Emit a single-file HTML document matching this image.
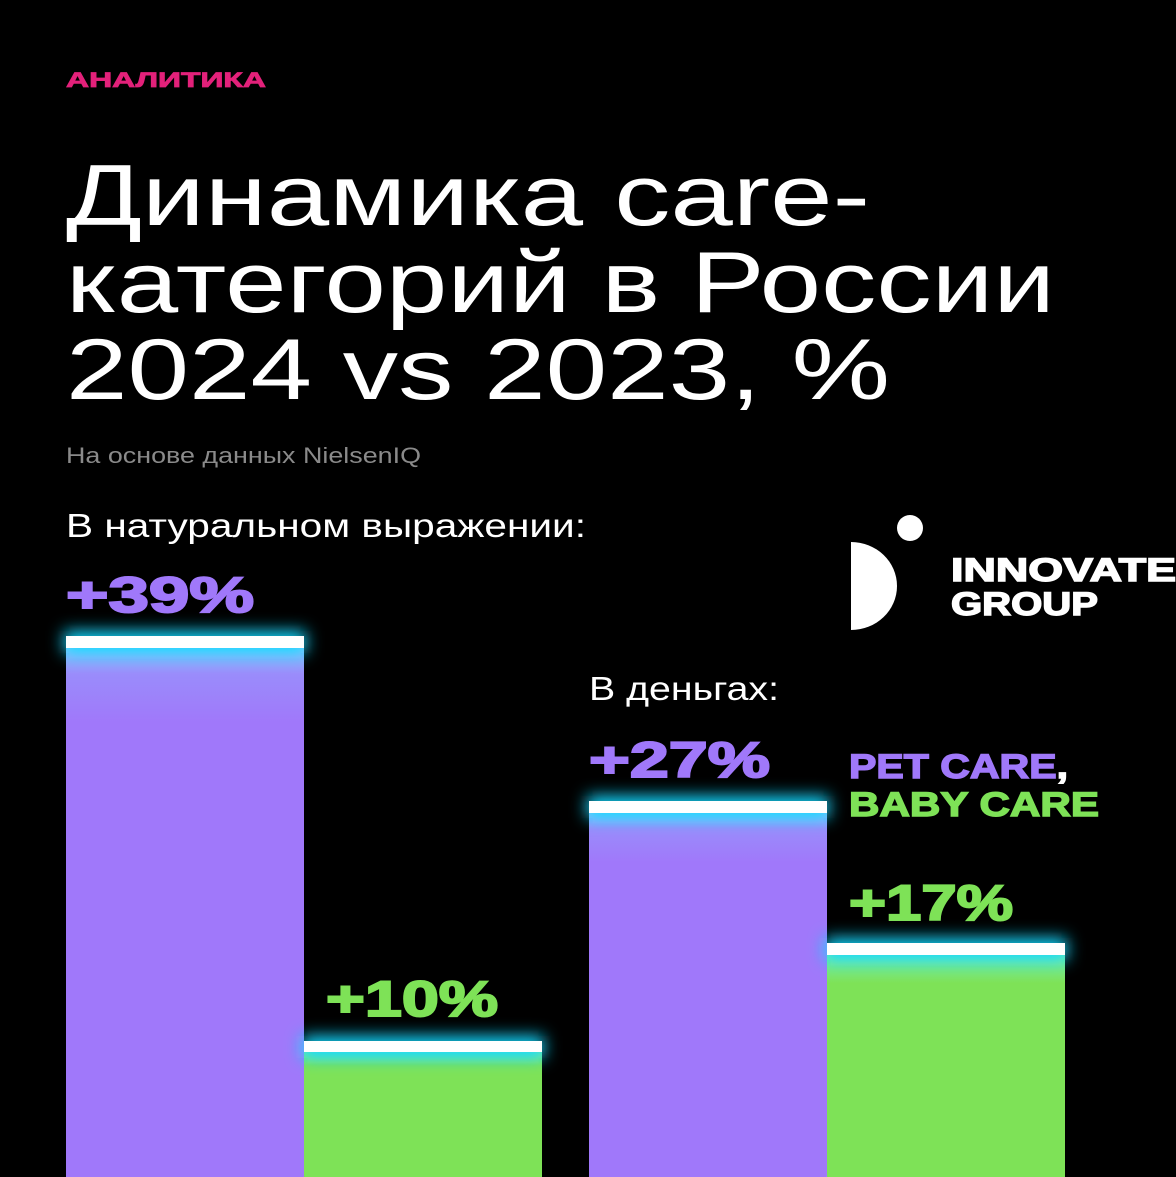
<!DOCTYPE html>
<html><head><meta charset="utf-8"><style>
html,body{margin:0;padding:0;background:#000;}
svg{display:block}
text{font-family:"Liberation Sans",sans-serif}
</style></head><body>
<svg width="1176" height="1177" viewBox="0 0 1176 1177" xmlns="http://www.w3.org/2000/svg">
<defs>
<filter id="glow" x="-20%" y="-300%" width="140%" height="700%"><feGaussianBlur stdDeviation="8"/></filter>
<linearGradient id="gp" x1="0" y1="0" x2="0" y2="1"><stop offset="0" stop-color="#7fd6ff"/><stop offset="0.06" stop-color="#9a8cfb"/><stop offset="0.15" stop-color="#a078fa"/><stop offset="1" stop-color="#a078fa"/></linearGradient>
<linearGradient id="gg" x1="0" y1="0" x2="0" y2="1"><stop offset="0" stop-color="#6ff0c0"/><stop offset="0.15" stop-color="#7ee257"/><stop offset="1" stop-color="#7ee257"/></linearGradient>
</defs>
<rect width="1176" height="1177" fill="#000"/>
<text x="66" y="87" font-size="21" font-weight="bold" fill="#e3217a" stroke="#e3217a" stroke-width="0.8" textLength="200" lengthAdjust="spacingAndGlyphs">АНАЛИТИКА</text>
<g fill="#fff" font-size="86">
<text x="66" y="225" textLength="804" lengthAdjust="spacingAndGlyphs">Динамика care-</text>
<text x="66" y="312" textLength="989" lengthAdjust="spacingAndGlyphs">категорий в России</text>
<text x="66" y="399" textLength="824" lengthAdjust="spacingAndGlyphs">2024 vs 2023, %</text>
</g>
<text x="66" y="463" font-size="22" fill="#8a8a8a" textLength="355" lengthAdjust="spacingAndGlyphs">На основе данных NielsenIQ</text>
<text x="66" y="537" font-size="33" fill="#fff" textLength="520" lengthAdjust="spacingAndGlyphs">В натуральном выражении:</text>
<text x="589" y="700" font-size="33" fill="#fff" textLength="190" lengthAdjust="spacingAndGlyphs">В деньгах:</text>
<g font-weight="bold" font-size="50" stroke-width="2">
<text x="66" y="612" fill="#a078fa" stroke="#a078fa" textLength="188" lengthAdjust="spacingAndGlyphs">+39%</text>
<text x="589" y="777" fill="#a078fa" stroke="#a078fa" textLength="181" lengthAdjust="spacingAndGlyphs">+27%</text>
<text x="849" y="920" fill="#7ee257" stroke="#7ee257" textLength="164" lengthAdjust="spacingAndGlyphs">+17%</text>
<text x="326" y="1016" fill="#7ee257" stroke="#7ee257" textLength="172" lengthAdjust="spacingAndGlyphs">+10%</text>
</g>
<g font-weight="bold" font-size="34" stroke-width="1.4">
<text x="849" y="778" fill="#a078fa" stroke="#a078fa" textLength="219" lengthAdjust="spacingAndGlyphs">PET CARE<tspan fill="#fff" stroke="#fff">,</tspan></text>
<text x="849" y="816" fill="#7ee257" stroke="#7ee257" textLength="250" lengthAdjust="spacingAndGlyphs">BABY CARE</text>
</g>
<path d="M851 542 A46 44 0 0 1 851 630 Z" fill="#fff"/>
<circle cx="910" cy="528" r="13" fill="#fff"/>
<g font-weight="bold" font-size="32" fill="#fff" stroke="#fff" stroke-width="1.4">
<text x="951" y="581" textLength="225" lengthAdjust="spacingAndGlyphs">INNOVATE</text>
<text x="951" y="615" textLength="147" lengthAdjust="spacingAndGlyphs">GROUP</text>
</g>
<rect x="66" y="642" width="238" height="535" fill="url(#gp)"/>
<rect x="304" y="1046" width="238" height="131" fill="url(#gg)"/>
<rect x="589" y="807" width="238" height="370" fill="url(#gp)"/>
<rect x="827" y="949" width="238" height="228" fill="url(#gg)"/>
<g fill="#18d8ff" filter="url(#glow)">
<rect x="64" y="631" width="242" height="22"/>
<rect x="302" y="1036" width="242" height="22"/>
<rect x="587" y="796" width="242" height="22"/>
<rect x="825" y="938" width="242" height="22"/>
</g>
<g fill="#fff">
<rect x="66" y="636" width="238" height="12"/>
<rect x="304" y="1041" width="238" height="11"/>
<rect x="589" y="801" width="238" height="12"/>
<rect x="827" y="943" width="238" height="12"/>
</g>
</svg>
</body></html>
